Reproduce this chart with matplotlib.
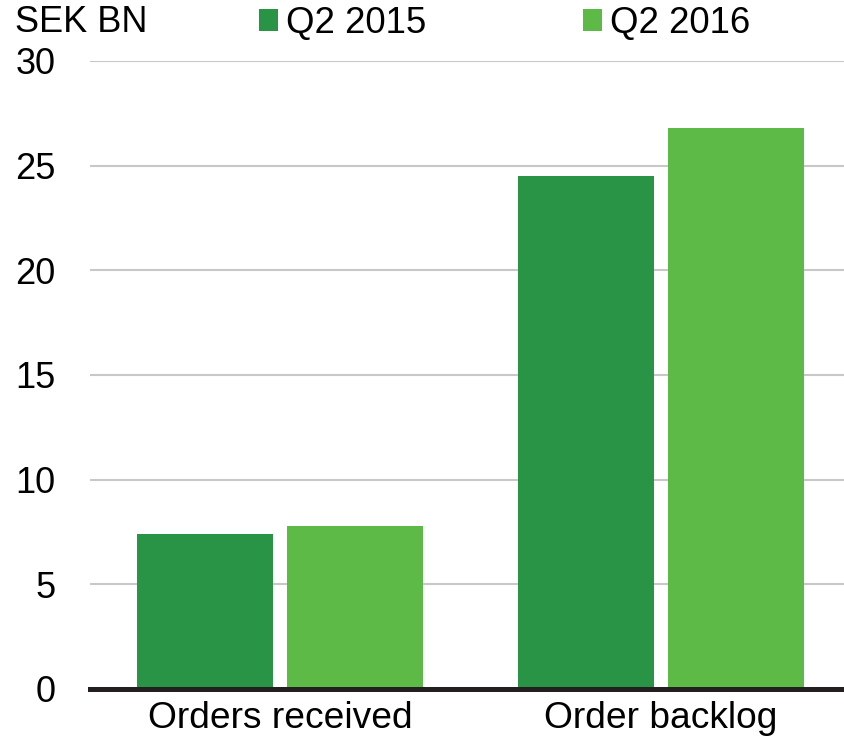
import matplotlib.pyplot as plt
import numpy as np

plt.rcParams['font.family'] = ['Liberation Sans', 'DejaVu Sans']

# Datos del gráfico
categorias = ['Orders received', 'Order backlog']
series = ['Q2 2015', 'Q2 2016']
valores_2015 = [7.4, 24.5]
valores_2016 = [7.8, 26.8]
colores = ['#2A9446', '#5DBA47']
yticks = [0, 5, 10, 15, 20, 25, 30]

fig = plt.figure(figsize=(8.45, 7.45), dpi=100)
ax = fig.add_axes([90 / 845, 56 / 745, 1 - 90 / 845, (689 - 61) / 745])

x = np.arange(len(categorias))
ancho = 0.357
desplazamiento = 0.197

ax.bar(x - desplazamiento, valores_2015, ancho, color=colores[0], label=series[0], zorder=3)
ax.bar(x + desplazamiento, valores_2016, ancho, color=colores[1], label=series[1], zorder=3)

ax.set_xlim(-0.5, 1.483)
ax.set_ylim(0, 30)
ax.set_yticks(yticks)
ax.set_xticks(x)
ax.set_xticklabels(categorias, fontsize=26.7)

# Rejilla y ejes
ax.grid(axis='y', color='#C8C8C8', linewidth=1.5, zorder=0)
ax.set_axisbelow(True)
for lado in ['top', 'right', 'left']:
    ax.spines[lado].set_visible(False)
ax.spines['bottom'].set_color('#231F20')
ax.spines['bottom'].set_linewidth(3.6)
ax.spines['bottom'].set_zorder(4)

ax.tick_params(axis='both', length=0, colors='black')
ax.tick_params(axis='y', pad=25, labelsize=26)
ax.tick_params(axis='x', pad=9)

# Unidad y leyenda
fig.text(15 / 845, 1 - 22.5 / 745, 'SEK BN', fontsize=26, va='center', ha='left')
fig.legend(loc='center left', bbox_to_anchor=(259 / 845, 1 - 23.5 / 745), ncol=2,
           frameon=False, fontsize=26.4, handlelength=0.53, handleheight=0.53,
           handletextpad=0.22, columnspacing=4.25, borderaxespad=0, borderpad=0)

plt.savefig('out.png', dpi=100)
plt.close(fig)
